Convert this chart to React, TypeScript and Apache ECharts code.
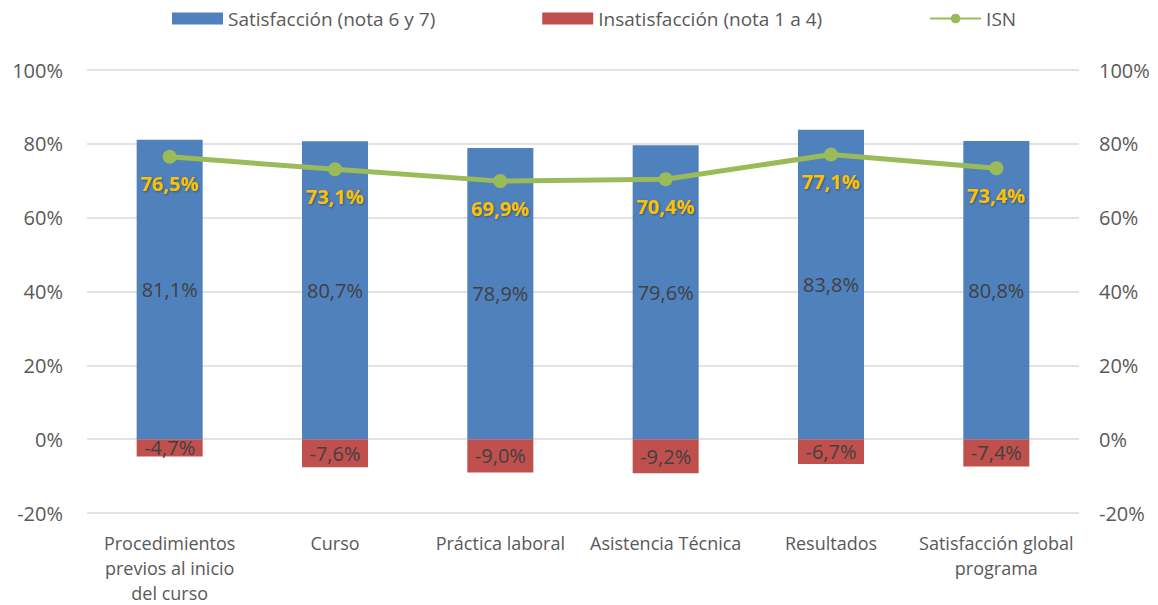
import React, { useEffect, useRef } from "react";
import * as echarts from "echarts";

const categories = [
  "Procedimientos\nprevios al inicio\ndel curso",
  "Curso",
  "Práctica laboral",
  "Asistencia Técnica",
  "Resultados",
  "Satisfacción global\nprograma",
];
const satisfaccion = [81.1, 80.7, 78.9, 79.6, 83.8, 80.8];
const insatisfaccion = [-4.7, -7.6, -9.0, -9.2, -6.7, -7.4];
const isn = [76.5, 73.1, 69.9, 70.4, 77.1, 73.4];

const FONT = "'Open Sans', 'Noto Sans', sans-serif";
const fmt = (v: number) => v.toFixed(1).replace(".", ",") + "%";

export default function App() {
  const ref = useRef<HTMLDivElement>(null);
  useEffect(() => {
    if (!ref.current) return;
    const chart = echarts.init(ref.current, undefined, { renderer: "svg" });
    const yAxisBase = {
      type: "value" as const,
      min: -20,
      max: 100,
      interval: 20,
      axisLabel: {
        formatter: (v: number) => v + "%",
        color: "#595959",
        fontSize: 20,
        fontFamily: FONT,
      },
      axisLine: { show: false },
      axisTick: { show: false },
    };
    const barLabel = {
      show: true,
      position: "inside",
      formatter: (p: any) => fmt(p.value),
      color: "#404040",
      fontSize: 20,
      fontFamily: FONT,
    };
    chart.setOption({
      animation: false,
      textStyle: { fontFamily: FONT },
      legend: {
        top: 4,
        left: 167,
        itemWidth: 51,
        itemHeight: 12,
        itemGap: 107,
        textStyle: { color: "#595959", fontSize: 19, fontFamily: FONT },
        data: [
          { name: "Satisfacción (nota 6 y 7)", icon: "rect" },
          { name: "Insatisfacción (nota 1 a 4)", icon: "rect" },
          { name: "ISN" },
        ],
      },
      grid: { left: 87, right: 79, top: 70, bottom: 83, containLabel: false },
      xAxis: {
        type: "category",
        data: categories,
        axisLine: { show: false },
        axisTick: { show: false },
        axisLabel: {
          color: "#595959",
          fontSize: 18,
          fontFamily: FONT,
          margin: 17,
          lineHeight: 25,
          interval: 0,
        },
      },
      yAxis: [
        {
          ...yAxisBase,
          axisLabel: { ...yAxisBase.axisLabel, margin: 24 },
          splitLine: { lineStyle: { color: "#D9D9D9", width: 1.5 } },
        },
        {
          ...yAxisBase,
          position: "right",
          axisLabel: { ...yAxisBase.axisLabel, margin: 20 },
          splitLine: { show: false },
        },
      ],
      series: [
        {
          name: "Satisfacción (nota 6 y 7)",
          type: "bar",
          stack: "s",
          data: satisfaccion,
          barWidth: 66,
          itemStyle: { color: "#4F81BD" },
          label: barLabel,
        },
        {
          name: "Insatisfacción (nota 1 a 4)",
          type: "bar",
          stack: "s",
          data: insatisfaccion,
          barWidth: 66,
          itemStyle: { color: "#C0504D" },
          label: barLabel,
        },
        {
          name: "ISN",
          type: "line",
          data: isn,
          z: 5,
          symbol: "circle",
          symbolSize: 14,
          lineStyle: { color: "#9BBB59", width: 5 },
          itemStyle: { color: "#9BBB59" },
          label: {
            show: true,
            position: "bottom",
            distance: 10,
            formatter: (p: any) => fmt(p.value),
            color: "#FFC000",
            fontWeight: "bold",
            fontSize: 20,
            fontFamily: FONT,
            textShadowColor: "rgba(0,0,0,0.35)",
            textShadowBlur: 2,
            textShadowOffsetX: 1,
            textShadowOffsetY: 1,
          },
        },
      ],
    });
    return () => chart.dispose();
  }, []);
  return (
    <div
      ref={ref}
      style={{ position: "fixed", left: 0, top: 0, width: 1158, height: 605, background: "#fff" }}
    />
  );
}
